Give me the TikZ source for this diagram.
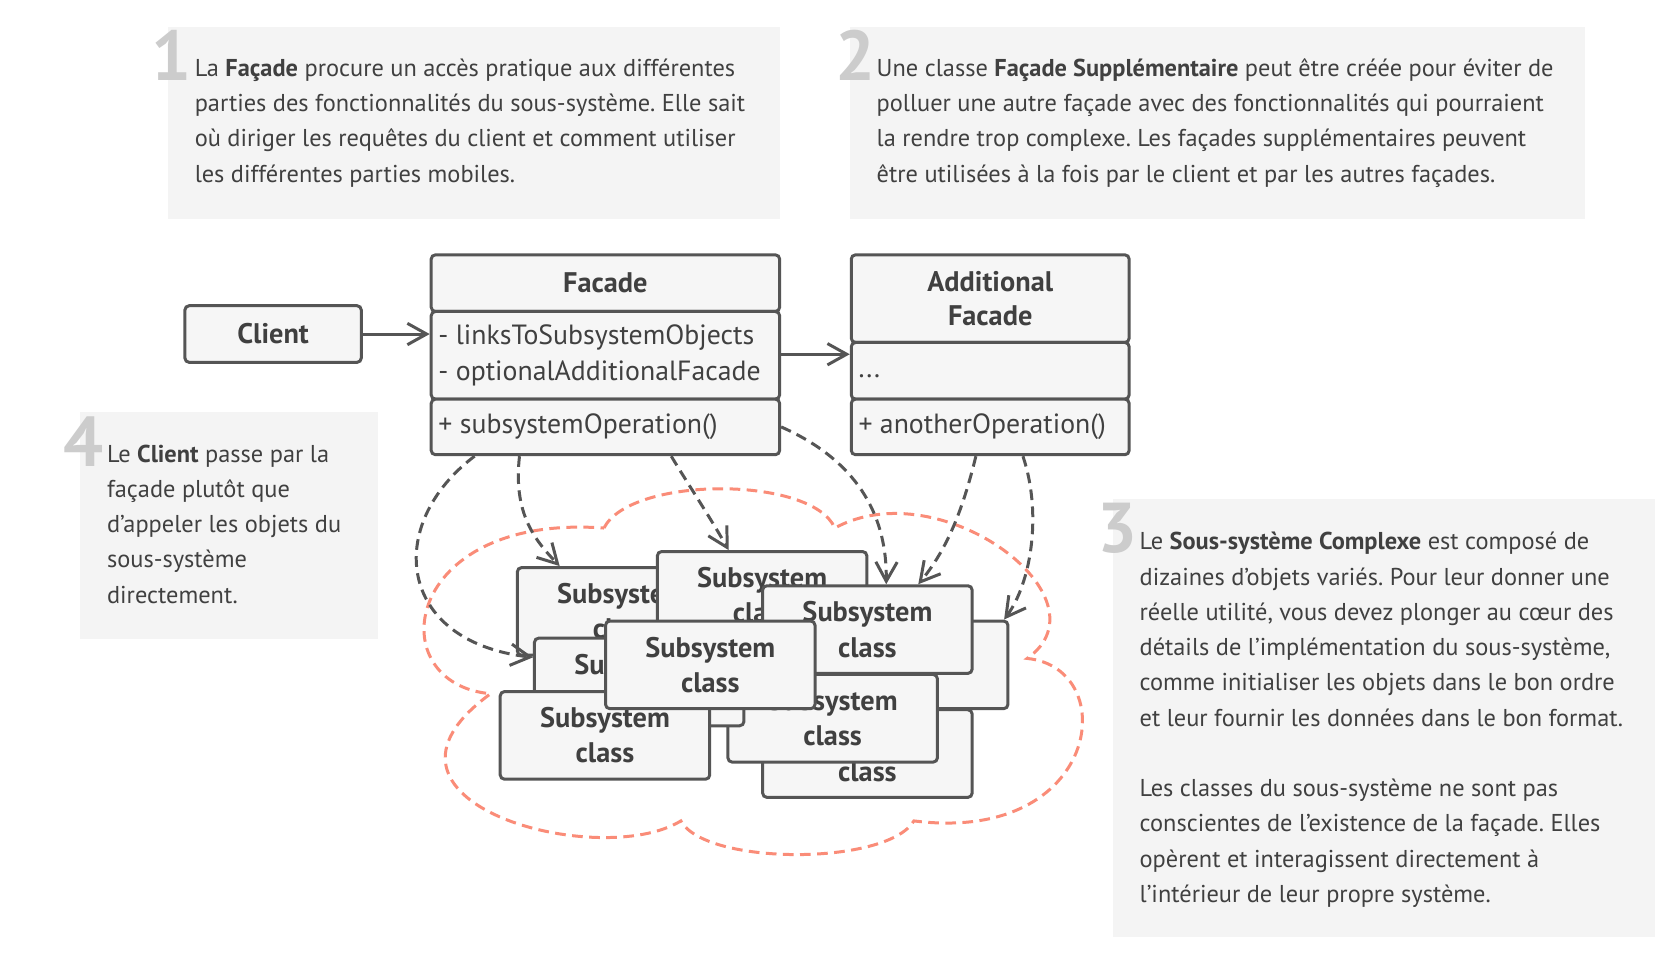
\documentclass[tikz,border=0pt]{standalone}
\usepackage{fontspec}
\setmainfont{PT Sans}
\usetikzlibrary{arrows.meta}
\definecolor{txt}{HTML}{404040}
\definecolor{panel}{HTML}{F4F4F4}
\definecolor{numc}{HTML}{CCCCCC}
\definecolor{ln}{HTML}{555555}
\definecolor{boxfill}{HTML}{F6F6F6}
\definecolor{cloudc}{HTML}{FA8C78}
\begin{document}
\frenchspacing
\begin{tikzpicture}[x=1pt,y=-1pt,
  panelbox/.style={fill=panel,draw=none},
  numeral/.style={text=numc,font=\fontsize{66}{66}\selectfont\bfseries,anchor=base west,inner sep=0},
  bodytext/.style={text=txt,font=\fontsize{22.8}{33}\selectfont,anchor=north west,inner sep=0,align=left},
  umlpart/.style={draw=ln,fill=boxfill,line width=2.8pt,rounded corners=4pt,anchor=north west,inner sep=0},
  umltitle/.style={text=txt,font=\fontsize{26.5}{32.5}\selectfont\bfseries,align=center,inner sep=0},
  umltext/.style={text=txt,font=\fontsize{26}{33}\selectfont,align=left,anchor=west,inner sep=0},
  subbox/.style={draw=ln,fill=boxfill,line width=2.8pt,rounded corners=4pt,minimum width=196pt,minimum height=82pt,inner sep=0,
     text=txt,font=\fontsize{26.5}{33}\selectfont\bfseries,align=center},
  solidarrow/.style={draw=ln,line width=2.8pt,-{Straight Barb[length=18pt,width=20pt]}},
  dasharrow/.style={draw=ln,line width=2.8pt,dash pattern=on 10pt off 6pt,-{Straight Barb[length=18pt,width=20pt]}},
  cloudline/.style={draw=cloudc,line width=2.8pt,dash pattern=on 10pt off 6pt}
]
\useasboundingbox (0,0) rectangle (1568,892);
\fill[white] (0,0) rectangle (1568,892);

% panels
\path[panelbox] (157,25) rectangle (730,205);
\path[panelbox] (795,25) rectangle (1483,205);
\path[panelbox] (75,385) rectangle (354,598);
\path[panelbox] (1041,467) rectangle (1548,877);

% numerals
\node[numeral] (n1) at (142,75) {1};
\node[numeral] (n2) at (781,75) {2};
\node[numeral] (n4) at (59,436) {4};
\node[numeral] (n3) at (1027,517) {3};

% texts
\node[bodytext] (t1) at (182,48) {\strut La \textbf{Façade} procure un accès pratique aux différentes\\
parties des fonctionnalités du sous-système. Elle sait\\
où diriger les requêtes du client et comment utiliser\\
les différentes parties mobiles.};
\node[bodytext] (t2) at (820,48) {\strut Une classe \textbf{Façade Supplémentaire} peut être créée pour éviter de\\
polluer une autre façade avec des fonctionnalités qui pourraient\\
la rendre trop complexe. Les façades supplémentaires peuvent\\
être utilisées à la fois par le client et par les autres façades.};
\node[bodytext] (t4) at (100,409) {\strut Le \textbf{Client} passe par la\\
façade plutôt que\\
d’appeler les objets du\\
sous-système\\
directement.};
\node[bodytext] (t3) at (1066,491) {\strut Le \textbf{Sous-système Complexe} est composé de\\
dizaines d’objets variés. Pour leur donner une\\
réelle utilité, vous devez plonger au cœur des\\
détails de l’implémentation du sous-système,\\
comme initialiser les objets dans le bon ordre\\
et leur fournir les données dans le bon format.\\[33pt]
Les classes du sous-système ne sont pas\\
conscientes de l’existence de la façade. Elles\\
opèrent et interagissent directement à\\
l’intérieur de leur propre système.};

% cloud
\draw[cloudline] (565,494) .. controls (590,445) and (760,445) .. (781,494)
  .. controls (880,440) and (1040,560) .. (961,616)
  .. controls (1050,625) and (1030,790) .. (855,768)
  .. controls (830,810) and (660,810) .. (637,768)
  .. controls (560,815) and (320,750) .. (459,649)
  .. controls (355,640) and (375,480) .. (565,494) -- cycle;

% client
\node[draw=ln,fill=boxfill,line width=2.8pt,rounded corners=4pt,minimum width=165pt,minimum height=53pt,inner sep=0,
  text=txt,font=\fontsize{26.5}{30}\selectfont\bfseries] (client) at (255.5,312.5) {Client};

% facade
\node[umlpart,minimum width=326pt,minimum height=53pt] (facadeT) at (402,237) {};
\node[umlpart,minimum width=326pt,minimum height=82pt] (facadeA) at (402,290) {};
\node[umlpart,minimum width=326pt,minimum height=52pt] (facadeM) at (402,372) {};
\node[umltitle] (facadeTt) at (facadeT.center) {Facade};
\node[umltext] (facadeAt) at ([xshift=8pt]facadeA.west) {- linksToSubsystemObjects\\- optionalAdditionalFacade};
\node[umltext] (facadeMt) at ([xshift=8pt]facadeM.west) {+ subsystemOperation()};

% additional facade
\node[umlpart,minimum width=260pt,minimum height=82pt] (addT) at (795,237) {};
\node[umlpart,minimum width=260pt,minimum height=53pt] (addA) at (795,319) {};
\node[umlpart,minimum width=260pt,minimum height=52pt] (addM) at (795,372) {};
\node[umltitle] (addTt) at (addT.center) {Additional\\Facade};
\node[umltext] (addAt) at ([xshift=8pt,yshift=-5pt]addA.west) {...};
\node[umltext] (addMt) at ([xshift=8pt]addM.west) {+ anotherOperation()};

% subsystem classes (back to front)
\node[subbox] (ss1) at (582,572) {Subsystem\\class};
\node[subbox] (ss2) at (713,557) {Subsystem\\class};
\node[subbox] (ss4) at (845,622) {Subsystem\\class};
\node[subbox] (ss3) at (811.5,589) {Subsystem\\class};
\node[subbox] (ss6) at (811.5,705) {Subsystem\\class};
\node[subbox] (ss5) at (779,672) {Subsystem\\class};
\node[subbox] (ss8) at (598,638) {Subsystem\\class};
\node[subbox] (ss9) at (566,688) {Subsystem\\class};
\node[subbox] (ss7) at (664.5,622) {Subsystem\\class};

% solid arrows
\draw[solidarrow] (client.east) -- (client.east -| facadeA.west);
\draw[solidarrow] ([yshift=1pt]facadeA.east) -- ([yshift=1pt]facadeA.east -| addA.west);

% dashed arrows
\draw[dasharrow] ([xshift=42pt]facadeM.south west) .. controls (360,490) and (370,600) .. ([yshift=23pt]ss8.west);
\draw[dasharrow] ([xshift=84pt]facadeM.south west) .. controls (480,480) and (500,505) .. ([xshift=41pt]ss1.north west);
\draw[dasharrow] ([xshift=226pt]facadeM.south west) .. controls (645,455) and (665,485) .. ([xshift=68pt]ss2.north west);
\draw[dasharrow] (facadeM.east) .. controls (800,430) and (830,480) .. ([xshift=117pt]ss3.north west);
\draw[dasharrow] ([xshift=118pt]addM.south west) .. controls (900,480) and (885,515) .. ([xshift=147pt]ss3.north west);
\draw[dasharrow] ([xshift=162pt]addM.south west) .. controls (975,480) and (965,545) .. ([xshift=-5pt]ss4.north east);
\end{tikzpicture}
\end{document}
